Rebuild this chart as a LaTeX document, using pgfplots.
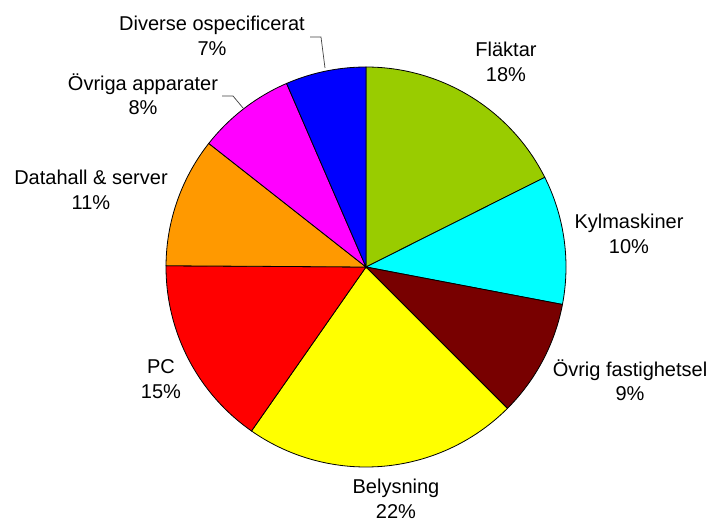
\documentclass[border=0pt]{standalone}
\usepackage{fontspec}
\setmainfont{Liberation Sans}
\usepackage{pgfplots}
\usepackage{pgfplotstable}
\pgfplotsset{compat=1.18}

\definecolor{cFl}{RGB}{153,204,0}
\definecolor{cKy}{RGB}{0,255,255}
\definecolor{cOf}{RGB}{120,0,0}
\definecolor{cBe}{RGB}{255,255,0}
\definecolor{cPC}{RGB}{255,0,0}
\definecolor{cDa}{RGB}{255,153,0}
\definecolor{cOa}{RGB}{255,0,255}
\definecolor{cDi}{RGB}{0,0,255}

\tikzset{lbl/.style={font=\fontsize{20bp}{24.5bp}\selectfont, align=center, inner sep=0pt}}

% shares in percent, clockwise from 12 o'clock
\pgfplotstableread[col sep=comma]{
name,value,color
Fläktar,17.6,cFl
Kylmaskiner,10.4,cKy
Övrig fastighetsel,9.5,cOf
Belysning,22.2,cBe
PC,15.4,cPC
Datahall och server,10.5,cDa
Övriga apparater,7.9,cOa
Diverse ospecificerat,6.5,cDi
}\piedata

\begin{document}
\begin{tikzpicture}
\begin{axis}[
    width=710bp, height=523bp, scale only axis,
    xmin=0, xmax=710, ymin=0, ymax=523,
    hide axis, clip=false,
]
\path (rel axis cs:0,0) (rel axis cs:1,1);
\pgfplotstablegetrowsof{\piedata}
\pgfmathtruncatemacro\N{\pgfplotsretval-1}
\def\angacc{90}
\pgfplotsforeachungrouped \i in {0,...,\N}{
  \pgfplotstablegetelem{\i}{value}\of\piedata \let\v\pgfplotsretval
  \pgfplotstablegetelem{\i}{color}\of\piedata \let\c\pgfplotsretval
  \pgfmathsetmacro\angend{\angacc-3.6*\v}
  \edef\tmp{\noexpand\addplot[fill=\c, draw=black, line width=0.8bp,
     domain=\angend:\angacc, samples=80]
     ({366+200*cos(x)},{256+200*sin(x)}) -- (axis cs:366,256) -- cycle;}
  \tmp
  \global\let\angacc\angend
}

% leader lines
\addplot[black!75, line width=0.7bp] coordinates {(310,486) (321,486) (325,455)};
\addplot[black!75, line width=0.7bp] coordinates {(222,427) (233,427) (243,415)};

\node[lbl] at (axis cs:506,461) {Fläktar\\18\%};
\node[lbl] at (axis cs:629,289) {Kylmaskiner\\10\%};
\node[lbl] at (axis cs:630,143) {Övrig fastighetsel\\9\%};
\node[lbl] at (axis cs:396,24) {Belysning\\22\%};
\node[lbl] at (axis cs:161,144) {PC\\15\%};
\node[lbl] at (axis cs:91,333) {Datahall \& server\\11\%};
\node[lbl] at (axis cs:143,429) {Övriga apparater\\8\%};
\node[lbl] at (axis cs:212,487) {Diverse ospecificerat\\7\%};
\end{axis}
\end{tikzpicture}
\end{document}
